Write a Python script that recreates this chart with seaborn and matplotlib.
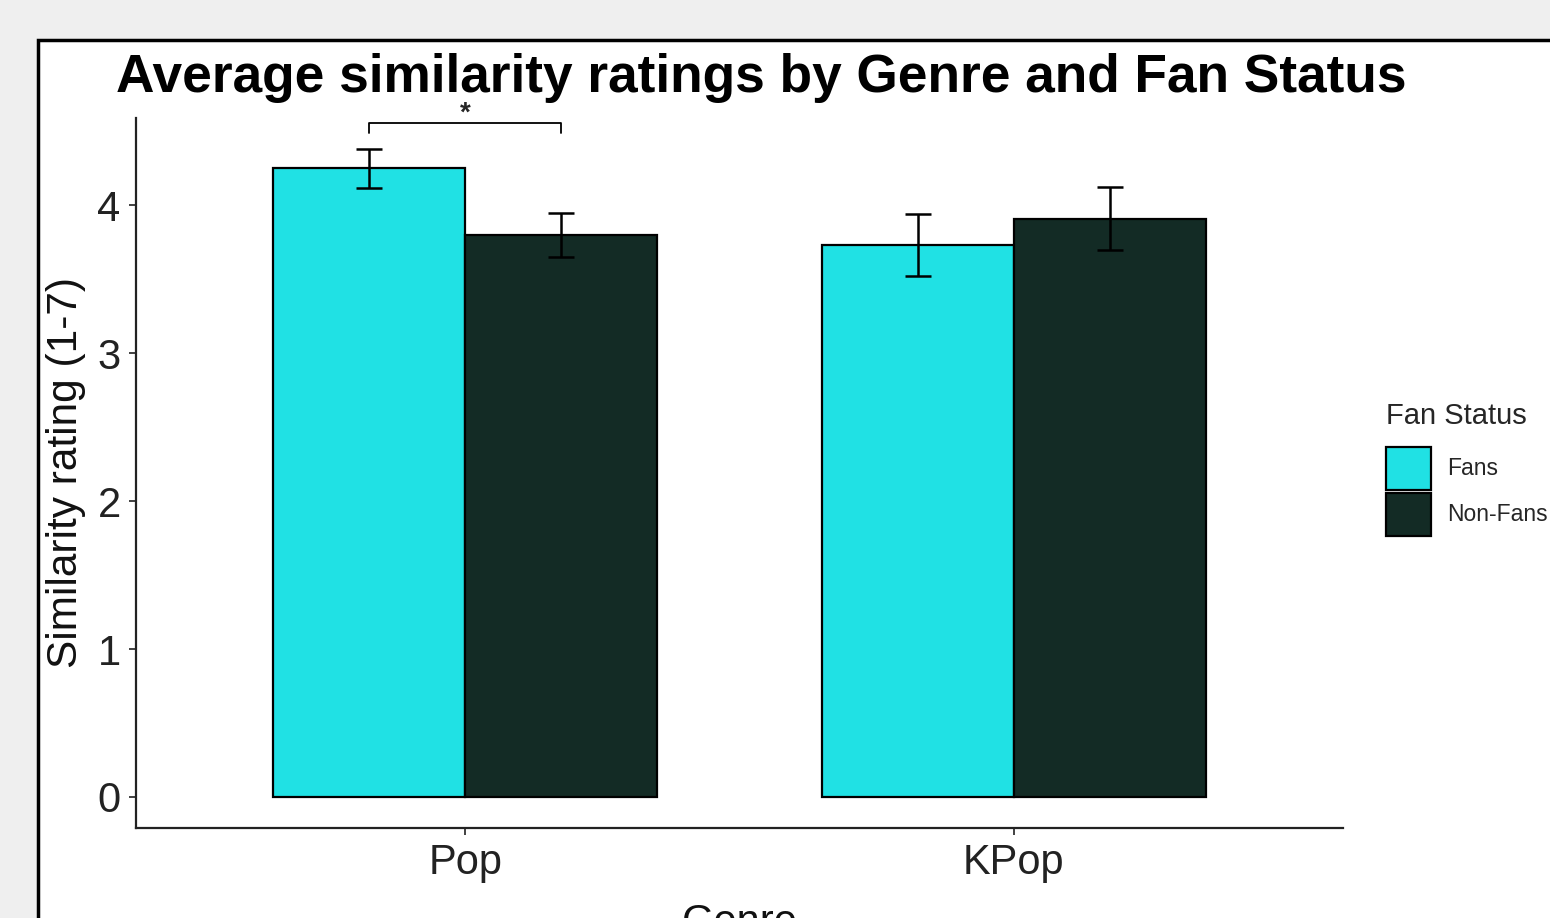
import pandas as pd
import matplotlib.pyplot as plt
import seaborn as sns
from matplotlib.patches import Rectangle

# --- data ---
genres = ['Pop', 'Pop', 'KPop', 'KPop']
fan_status = ['Fans', 'Non-Fans', 'Fans', 'Non-Fans']
mean_rating = [4.25, 3.80, 3.73, 3.91]
err_rating = [0.13, 0.15, 0.21, 0.215]

genre_order = ['Pop', 'KPop']
fan_order = ['Fans', 'Non-Fans']
bar_colors = ['#20E1E4', '#132B25']

df = pd.DataFrame({'genre': genres, 'fan': fan_status,
                   'rating': mean_rating, 'err': err_rating})

sns.set_style('white')
plt.rcParams['font.family'] = ['Liberation Sans', 'DejaVu Sans']

fig = plt.figure(figsize=(15.5, 9.18), dpi=100)
fig.patch.set_facecolor('#efefef')

# white panel with black frame (runs off the right and bottom edges)
W, H = 1550, 918
fig.patches.append(Rectangle((38 / W, -0.2), 1.2, 1.2 - 40 / H,
                             transform=fig.transFigure, facecolor='white',
                             edgecolor='black', linewidth=2.5, zorder=-5))

ax = fig.add_axes([136 / W, 1 - 828 / H, (1343 - 136) / W, (828 - 118) / H])
ax.patch.set_alpha(0)

sns.barplot(data=df, x='genre', y='rating', hue='fan', order=genre_order,
            hue_order=fan_order, palette=bar_colors, width=0.7, errorbar=None,
            edgecolor='black', linewidth=1.6, saturation=1, ax=ax)

# error bars at the bar centres
for level, cont in zip(fan_order, ax.containers):
    sub = df[df['fan'] == level].set_index('genre').loc[genre_order]
    xs = [b.get_x() + b.get_width() / 2 for b in cont]
    ax.errorbar(xs, sub['rating'], yerr=sub['err'], fmt='none', ecolor='black',
                elinewidth=1.8, capsize=9.5, capthick=1.8, zorder=5)

# significance bracket over Pop
pop_x = [b.get_x() + b.get_width() / 2 for b in
         (ax.containers[0][0], ax.containers[1][0])]
ax.plot([pop_x[0], pop_x[0], pop_x[1], pop_x[1]], [4.49, 4.555, 4.555, 4.49],
        color='black', linewidth=1.3, clip_on=False)
ax.text(sum(pop_x) / 2, 4.62, '*', ha='center', va='center', fontsize=20,
        fontweight='bold', clip_on=False)

ax.set_xlim(-0.6, 1.6)
ax.set_ylim(-0.21, 4.59)
ax.set_yticks([0, 1, 2, 3, 4])
sns.despine(ax=ax)
for s in ['left', 'bottom']:
    ax.spines[s].set_linewidth(1.6)
    ax.spines[s].set_color('#222222')
ax.tick_params(axis='both', length=5, width=1.3, color='#333333',
               labelsize=30, labelcolor='#222222', left=True, bottom=True, pad=6)
ax.set_ylabel('Similarity rating (1-7)', fontsize=30.5, labelpad=8, color='#111111')
ax.set_xlabel('Genre', fontsize=30, labelpad=14, color='#111111')

handles, labels = ax.get_legend_handles_labels()
ax.legend_.remove()
leg = fig.legend(handles, labels, title='Fan Status', loc='upper left',
                 bbox_to_anchor=(1386 / W, 1 - 402 / H), frameon=False,
                 fontsize=16.5, title_fontsize=21, handlelength=1.95,
                 handleheight=2.55, labelspacing=0.1, handletextpad=0.7,
                 borderpad=0, borderaxespad=0)
leg._legend_box.align = 'left'
leg._legend_box.sep = 12

fig.text(116 / W, 1 - 92 / H, 'Average similarity ratings by Genre and Fan Status',
         fontsize=38.3, fontweight='bold', ha='left', va='baseline', color='black')

fig.savefig('out.png', dpi=100, facecolor=fig.get_facecolor())
